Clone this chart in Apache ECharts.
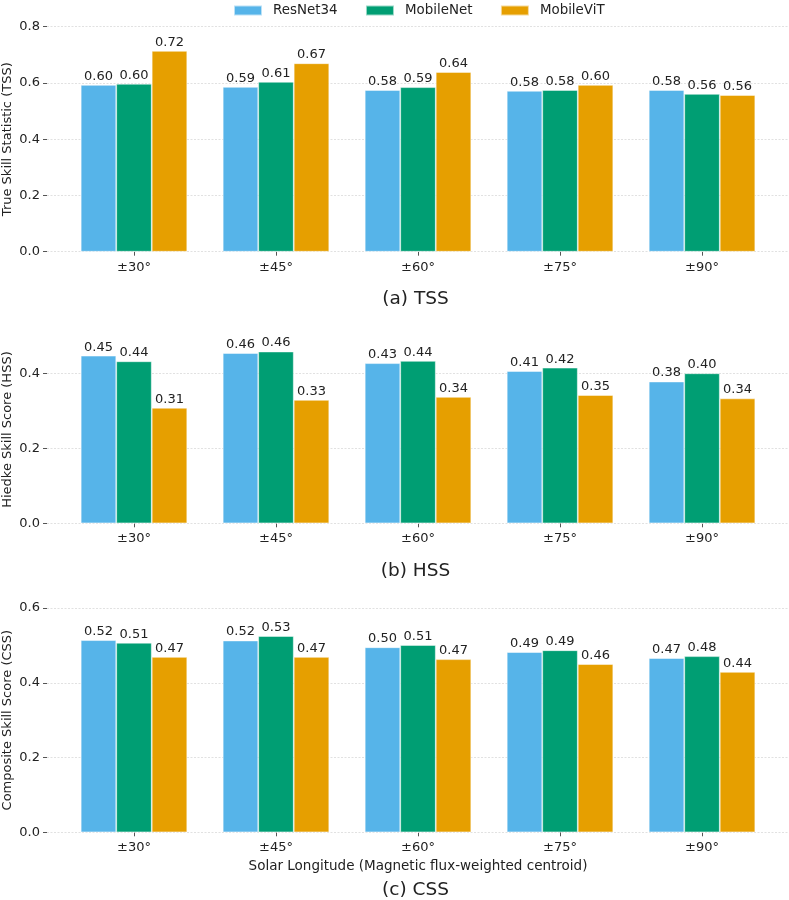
<!DOCTYPE html>
<html><head><meta charset="utf-8">
<script src="https://cdn.jsdelivr.net/npm/echarts@6/dist/echarts.min.js"></script>
<style>html,body{margin:0;padding:0;background:#fff}#c{width:789px;height:900px}</style>
</head><body><div id="c"></div>
<script>
const categories = ['±30°', '±45°', '±60°', '±75°', '±90°'];
const models = ['ResNet34', 'MobileNet', 'MobileViT'];
const colors = ['#56B4E9', '#009E73', '#E69F00'];

const tssResNet = [0.593, 0.586, 0.575, 0.572, 0.575];
const tssMobileNet = [0.597, 0.604, 0.585, 0.575, 0.561];
const tssMobileViT = [0.714, 0.670, 0.639, 0.593, 0.557];
const tssLabels = [['0.60','0.59','0.58','0.58','0.58'],['0.60','0.61','0.59','0.58','0.56'],['0.72','0.67','0.64','0.60','0.56']];

const hssResNet = [0.447, 0.454, 0.427, 0.406, 0.378];
const hssMobileNet = [0.432, 0.458, 0.433, 0.415, 0.400];
const hssMobileViT = [0.308, 0.329, 0.337, 0.342, 0.333];
const hssLabels = [['0.45','0.46','0.43','0.41','0.38'],['0.44','0.46','0.44','0.42','0.40'],['0.31','0.33','0.34','0.35','0.34']];

const cssResNet = [0.514, 0.513, 0.495, 0.482, 0.466];
const cssMobileNet = [0.507, 0.525, 0.501, 0.487, 0.471];
const cssMobileViT = [0.469, 0.469, 0.463, 0.450, 0.429];
const cssLabels = [['0.52','0.52','0.50','0.49','0.47'],['0.51','0.53','0.51','0.49','0.48'],['0.47','0.47','0.47','0.46','0.44']];

const yTicksA = [0, 0.2, 0.4, 0.6, 0.8];
const yTicksB = [0, 0.2, 0.4];
const yTicksC = [0, 0.2, 0.4, 0.6];

const FONT = 'DejaVu Sans';
const catIdx = categories.map((_, i) => i);

const panels = [
  {top: 26.7, height: 225, max: 0.8, ticks: yTicksA, name: 'True Skill Statistic (TSS)', vals: [tssResNet, tssMobileNet, tssMobileViT], labels: tssLabels, title: '(a) TSS', titleTop: 285},
  {top: 335.8, height: 187.5, max: 0.5, ticks: yTicksB, name: 'Hiedke Skill Score (HSS)', vals: [hssResNet, hssMobileNet, hssMobileViT], labels: hssLabels, title: '(b) HSS', titleTop: 557},
  {top: 608, height: 224.3, max: 0.6, ticks: yTicksC, name: 'Composite Skill Score (CSS)', vals: [cssResNet, cssMobileNet, cssMobileViT], labels: cssLabels, title: '(c) CSS', titleTop: 876}
];

const grid = [], xAxis = [], yAxis = [], series = [], title = [];
panels.forEach((p, k) => {
  grid.push({left: 47, right: 0, top: p.top, height: p.height, containLabel: false, outerBoundsMode: 'none'});
  xAxis.push({
    type: 'value', gridIndex: k, min: -0.6125, max: 4.6125,
    axisLine: {show: false, onZero: false}, splitLine: {show: false},
    axisTick: {show: true, customValues: catIdx, length: 4, lineStyle: {color: '#555', width: 1}},
    axisLabel: {customValues: catIdx, formatter: v => categories[Math.round(v)], color: '#222', fontFamily: FONT, fontSize: 13, margin: 9},
    name: k === 2 ? 'Solar Longitude (Magnetic flux-weighted centroid)' : '',
    nameLocation: 'middle', nameGap: 27,
    nameTextStyle: {color: '#222', fontFamily: FONT, fontSize: 13.5}
  });
  yAxis.push({
    type: 'value', gridIndex: k, min: 0, max: p.max,
    axisLine: {show: false, onZero: false},
    axisTick: {show: true, customValues: p.ticks, length: 4, lineStyle: {color: '#555', width: 1}},
    axisLabel: {customValues: p.ticks, formatter: v => v.toFixed(1), color: '#222', fontFamily: FONT, fontSize: 13, margin: 7},
    splitLine: {show: false},
    name: p.name, nameLocation: 'middle', nameGap: 33, nameRotate: 90, nameMoveOverlap: false,
    nameTextStyle: {color: '#222', fontFamily: FONT, fontSize: 13}
  });
  models.forEach((m, s) => {
    series.push({
      type: 'bar', name: m, xAxisIndex: k, yAxisIndex: k,
      barWidth: 35.5, barGap: '0%',
      itemStyle: {color: colors[s], borderColor: 'rgba(255,255,255,0.6)', borderWidth: 0.8},
      data: p.vals[s].map((v, i) => [i, v]),
      label: {show: true, position: 'top', distance: 2, color: '#222', fontFamily: FONT, fontSize: 13,
        formatter: (d) => p.labels[s][d.dataIndex]},
      z: 3,
      markLine: s === 0 ? {
        silent: true, symbol: 'none', label: {show: false},
        lineStyle: {color: '#d9d9d9', type: [2, 1.5], width: 0.8},
        data: p.ticks.map(t => ({yAxis: t})), z: 1
      } : undefined
    });
  });
  title.push({text: p.title, left: 410.5, top: p.titleTop, textAlign: 'center',
    textStyle: {fontFamily: FONT, fontSize: 18.5, fontWeight: 'normal', color: '#222'}});
});

const chart = echarts.init(document.getElementById('c'), null, {renderer: 'canvas'});
chart.setOption({
  animation: false,
  backgroundColor: '#fff',
  title: title,
  legend: {
    data: models, left: 233, top: 4, itemWidth: 28, itemHeight: 10, itemGap: 27.5,
    icon: 'rect', padding: 0,
    textStyle: {fontFamily: FONT, fontSize: 13.4, color: '#222', padding: [0, 0, 0, 6]}
  },
  grid: grid, xAxis: xAxis, yAxis: yAxis, series: series
});
</script></body></html>
